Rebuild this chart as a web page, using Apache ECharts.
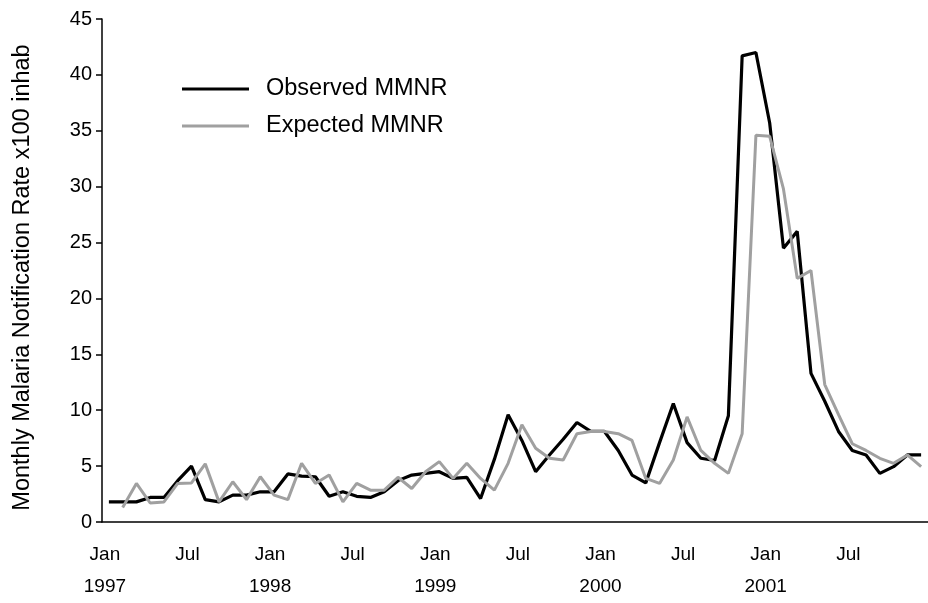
<!DOCTYPE html>
<html>
<head>
<meta charset="utf-8">
<script src="https://cdn.jsdelivr.net/npm/echarts@6/dist/echarts.min.js"></script>
<style>html,body{margin:0;padding:0;background:#fff}#chart{width:928px;height:603px}</style>
</head>
<body>
<div id="chart"></div>
<script>
// Monthly categories Jan 1997 .. Dec 2001
var months = [
  'Jan\n1997','Feb','Mar','Apr','May','Jun','Jul','Aug','Sep','Oct','Nov','Dec',
  'Jan\n1998','Feb','Mar','Apr','May','Jun','Jul','Aug','Sep','Oct','Nov','Dec',
  'Jan\n1999','Feb','Mar','Apr','May','Jun','Jul','Aug','Sep','Oct','Nov','Dec',
  'Jan\n2000','Feb','Mar','Apr','May','Jun','Jul','Aug','Sep','Oct','Nov','Dec',
  'Jan\n2001','Feb','Mar','Apr','May','Jun','Jul','Aug','Sep','Oct','Nov','Dec'
];
var observed = [
  1.8,1.8,1.8,2.2,2.2,3.7,5.0,2.0,1.8,2.4,2.4,2.7,
  2.7,4.3,4.1,4.05,2.3,2.7,2.3,2.2,2.7,3.7,4.2,4.35,
  4.5,3.9,4.0,2.1,5.6,9.6,7.3,4.5,6.0,7.4,8.9,8.1,
  8.1,6.4,4.2,3.5,7.1,10.6,7.1,5.7,5.5,9.5,41.7,42.0,
  35.7,24.5,26.0,13.3,10.8,8.1,6.4,6.0,4.35,4.95,6.0,6.0
];
var expected = [
  null,1.3,3.45,1.7,1.8,3.45,3.5,5.2,1.8,3.6,2.0,4.05,
  2.4,2.0,5.25,3.45,4.2,1.8,3.45,2.85,2.85,4.0,3.0,4.5,
  5.4,3.9,5.25,3.9,2.85,5.25,8.7,6.6,5.7,5.55,7.9,8.1,
  8.1,7.9,7.3,3.9,3.45,5.55,9.4,6.4,5.25,4.35,7.9,34.6,
  34.5,29.8,21.8,22.5,12.3,9.6,7.0,6.4,5.7,5.25,6.0,4.95
];
var yTicks = [0,5,10,15,20,25,30,35,40,45];

var FONT = '"Liberation Sans", Arial, sans-serif';
var chart = echarts.init(document.getElementById('chart'), null, {renderer:'canvas'});
chart.setOption({
  animation:false,
  backgroundColor:'#ffffff',
  grid:{left:102, right:-6, top:19, bottom:81, containLabel:false},
  legend:{
    orient:'vertical', left:177, top:72,
    itemWidth:67, itemHeight:3, itemGap:13,
    icon:'rect',
    textStyle:{fontFamily:FONT, fontSize:23.5, color:'#000', padding:[0,0,0,12]},
    data:['Observed MMNR','Expected MMNR']
  },
  xAxis:{
    type:'category', data:months, boundaryGap:true,
    axisLine:{lineStyle:{color:'#000', width:1.5}},
    axisTick:{interval:5, length:6, lineStyle:{color:'#000', width:1.5}},
    axisLabel:{interval:5, fontFamily:FONT, fontSize:19, color:'#000', lineHeight:32, margin:17, padding:[0,8,0,0]},
    splitLine:{show:false}
  },
  yAxis:{
    type:'value', min:yTicks[0], max:yTicks[yTicks.length-1], interval:5,
    name:'Monthly Malaria Notification Rate x100 inhab',
    nameLocation:'middle', nameGap:67, nameRotate:90,
    nameTextStyle:{fontFamily:FONT, fontSize:23.5, color:'#000', padding:[0,14,0,0]},
    axisLine:{show:true, lineStyle:{color:'#000', width:1.5}},
    axisTick:{show:true, length:6, lineStyle:{color:'#000', width:1.5}},
    axisLabel:{fontFamily:FONT, fontSize:20, color:'#000', margin:10},
    splitLine:{show:false}
  },
  series:[
    {name:'Observed MMNR', type:'line', data:observed, symbol:'none', z:3,
     lineStyle:{color:'#000', width:3.2}, itemStyle:{color:'#000'}},
    {name:'Expected MMNR', type:'line', data:expected, symbol:'none', z:4, connectNulls:false,
     lineStyle:{color:'#a0a0a0', width:3}, itemStyle:{color:'#a0a0a0'}}
  ]
});
</script>
</body>
</html>
